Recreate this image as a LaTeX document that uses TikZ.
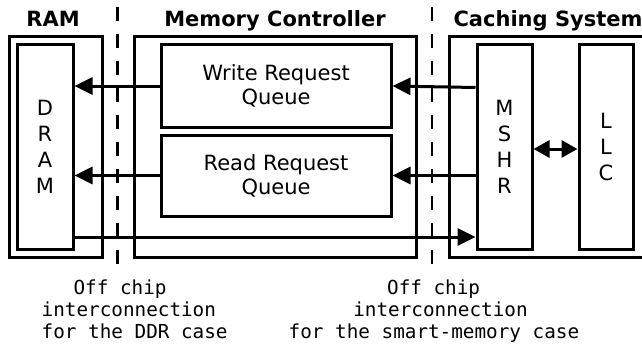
\documentclass[tikz,border=0pt]{standalone}
\usepackage{fontspec}
\setmainfont{DejaVu Sans}
\newfontfamily\monofont{DejaVu Sans Mono}
\usetikzlibrary{arrows.meta,calc}
\tikzset{
  box/.style={draw, line width=3pt, inner sep=0pt},
  lbl/.style={font=\fontsize{21}{24}\selectfont, align=center},
  vlbl/.style={font=\fontsize{21}{26}\selectfont, align=center},
  ttl/.style={font=\bfseries\fontsize{21}{24}\selectfont, anchor=base},
  note/.style={font=\monofont\fontsize{19.3}{22}\selectfont, align=left, anchor=north west, inner sep=0pt},
  arr/.style={line width=3pt, -{Triangle[length=18pt,width=17pt]}},
  dbl/.style={line width=3pt, {Triangle[length=16pt,width=17pt]}-{Triangle[length=16pt,width=17pt]}},
  sep/.style={line width=2.8pt, dash pattern=on 14pt off 13pt}
}
\begin{document}
\begin{tikzpicture}[x=1pt,y=-1pt]
\clip (0,0) rectangle (642,345);
\fill[white] (0,0) rectangle (642,345);
% titles
\node[ttl] (tram) at (53,27) {RAM};
\node[ttl] (tmc) at (275,27) {Memory Controller};
\node[ttl] (tcs) at (548,27) {Caching System};
% RAM
\node[box, minimum width=93pt, minimum height=220pt] (ram) at (55.5,147) {};
\node[box, minimum width=56pt, minimum height=205pt, vlbl] (dram) at (45,147) {D\\R\\A\\M};
% Memory controller
\node[box, minimum width=282pt, minimum height=220pt] (mc) at (275,147) {};
\node[box, minimum width=230pt, minimum height=82pt, lbl] (wrq) at (276,86) {Write Request\\Queue};
\node[box, minimum width=230pt, minimum height=81pt, lbl] (rrq) at (276,175.5) {Read Request\\Queue};
% Caching system
\node[box, minimum width=211pt, minimum height=220pt] (cs) at (554.5,147) {};
\node[box, minimum width=55pt, minimum height=205pt, vlbl] (mshr) at (504.5,147) {M\\S\\H\\R};
\node[box, minimum width=54pt, minimum height=205pt, vlbl] (llc) at (606,147) {L\\L\\C};
% connectors
\coordinate (mw1) at (mshr.west |- wrq.east);
\coordinate (mw2) at ($(mshr.west)+(0,28.5)$);
\draw[arr] (wrq.west) -- (wrq.west -| dram.east);
\draw[arr] (rrq.west) -- (rrq.west -| dram.east);
\draw[arr] ($(mw1)+(0,1.5)$) -- (wrq.east);
\draw[arr] (mw2) -- (rrq.east);
\draw[dbl] ($(mshr.east)+(0,2)$) -- ($(llc.west)+(0,2)$);
\coordinate (lowstart) at ($(dram.east)+(0,90)$);
\draw[arr] (lowstart) -- (lowstart -| mshr.west);
% separators
\coordinate (s1t) at (117.5,7);
\coordinate (s1b) at (117.5,272);
\coordinate (s2t) at (432,7);
\coordinate (s2b) at (432,272);
\draw[sep] (s1t) -- (s1b);
\draw[sep] (s2t) -- (s2b);
% notes
\node[note] (n1) at (41.5,280) {\hspace*{1.65em}Off chip\\interconnection\\for the DDR case};
\node[note] (n2) at (288.5,280) {\hspace*{5.1em}Off chip\\\hspace*{3.35em}interconnection\\for the smart-memory case};
\end{tikzpicture}
\end{document}
